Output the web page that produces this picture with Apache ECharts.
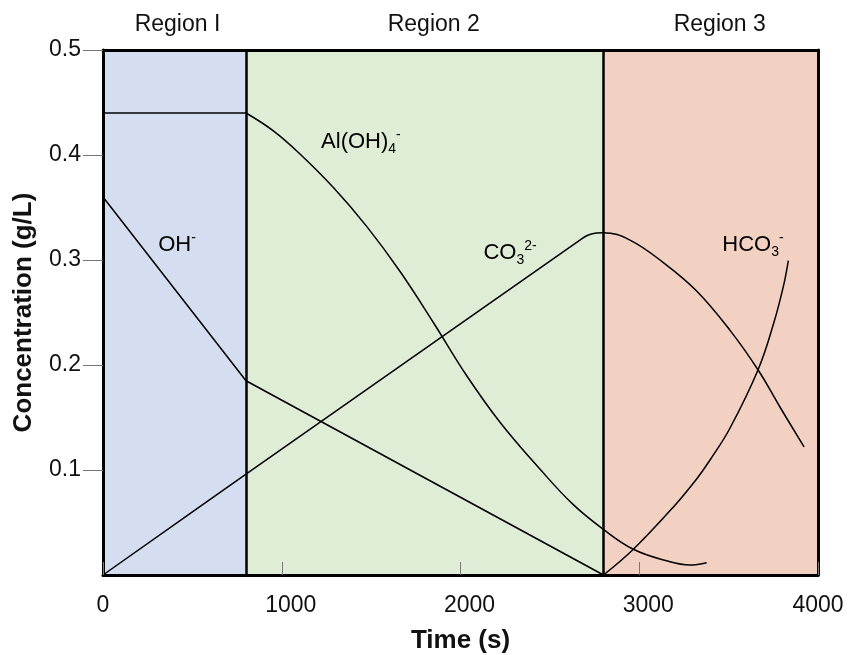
<!DOCTYPE html>
<html>
<head>
<meta charset="utf-8">
<script src="https://cdn.jsdelivr.net/npm/echarts@6/dist/echarts.min.js"></script>
<style>
html,body{margin:0;padding:0;background:#ffffff;}
#chart{width:851px;height:655px;}
</style>
</head>
<body>
<div id="chart"></div>
<script>
// ---- data ----
const regionNames = ['Region I', 'Region 2', 'Region 3'];
const regionBounds = [0, 800, 2800, 4000];
const regionColors = ['#D5DEF0', '#E0EDD6', '#F2D0C2'];
const xTickValues = [0, 1000, 2000, 3000, 4000];
const yTickValues = [0.1, 0.2, 0.3, 0.4, 0.5];

const ohData = [[0, 0.36], [800, 0.185], [2800, 0]];
const alData = [
  [0, 0.44], [800, 0.44], [953, 0.423], [1102, 0.401], [1289, 0.369],
  [1475, 0.332], [1662, 0.289], [1848, 0.2405], [2034, 0.190], [2221, 0.1455],
  [2454, 0.099], [2631, 0.067], [2799, 0.0435], [2967, 0.0245], [3153, 0.0135],
  [3284, 0.0095], [3377, 0.0117]
];
const co3Data = [
  [0, 0], [800, 0.096], [1219, 0.146], [2668, 0.319], [2715, 0.3238],
  [2760, 0.3258], [2800, 0.326], [2948, 0.319], [3135, 0.2975], [3321, 0.2705],
  [3508, 0.233], [3666, 0.195], [3787, 0.160], [3922, 0.122]
];
const hco3Data = [
  [2800, 0], [2967, 0.0245], [3190, 0.0646], [3321, 0.0915], [3396, 0.1095],
  [3508, 0.140], [3666, 0.196], [3750, 0.2385], [3806, 0.2746], [3834, 0.2994]
];

const speciesTexts = ['OH{sup|-}', 'Al(OH){sub|4}{sup|-}', 'CO{sub|3}{sup|2-}', 'HCO{sub|3}{sup|-}'];
const speciesAt = [[414, 0.314], [1443, 0.412], [2277, 0.307], [3636, 0.314]];

// ---- chart ----
const FONT = '"Liberation Sans", Arial, Helvetica, sans-serif';
const chart = echarts.init(document.getElementById('chart'), null, {renderer: 'canvas'});

const regionLabelOffsets = [[3, 0], [9, 0], [9, 0]];
const markAreaData = regionNames.map((name, i) => [
  {name: name, xAxis: regionBounds[i], itemStyle: {color: regionColors[i]},
   label: {offset: regionLabelOffsets[i]}},
  {xAxis: regionBounds[i + 1]}
]);
const dividerData = regionBounds.slice(1, -1).map(v => ({xAxis: v}));

// Al(OH)4- : flat part drawn straight, decay part drawn smooth (split at the region boundary)
const alSplit = alData.findIndex(p => p[0] === regionBounds[1]);
const alFlat = alData.slice(0, alSplit + 1);
const alDecay = alData.slice(alSplit);

const curveStyle = {color: '#000', width: 1.5};
function curve(name, data, smooth) {
  return {name: name, type: 'line', data: data, showSymbol: false, z: 3,
    smooth: smooth, lineStyle: curveStyle, itemStyle: {color: '#000'}};
}

const xMin = xTickValues[0], xMax = xTickValues[xTickValues.length - 1];

const option = {
  animation: false,
  backgroundColor: '#ffffff',
  grid: {left: 103, right: 33, top: 50, bottom: 80, show: false, outerBoundsMode: 'none', containLabel: false},
  xAxis: [{
    type: 'value', min: xMin, max: xMax, interval: 1000,
    position: 'bottom', z: 10,
    axisLine: {show: true, onZero: false, lineStyle: {color: '#000', width: 3}},
    axisTick: {show: true, inside: true, length: 13, lineStyle: {color: '#777', width: 1}},
    axisLabel: {show: true, margin: 19, fontSize: 23, color: '#111', fontFamily: FONT,
      customValues: xTickValues,
      formatter: v => (v > xMin && v < xMax) ? '{s|' + v + '}' : String(v),
      rich: {s: {fontSize: 23, color: '#111', fontFamily: FONT, padding: [0, 0, 0, 18]}}},
    splitLine: {show: false},
    name: 'Time (s)', nameLocation: 'middle', nameGap: 53,
    nameTextStyle: {fontSize: 26, fontWeight: 'bold', color: '#111', fontFamily: FONT}
  }, {
    type: 'value', min: xMin, max: xMax, position: 'top', z: 10,
    axisLine: {show: true, onZero: false, lineStyle: {color: '#000', width: 3}},
    axisTick: {show: false}, axisLabel: {show: false}, splitLine: {show: false}
  }],
  yAxis: [{
    type: 'value', min: 0, max: 0.5, interval: 0.1,
    position: 'left', z: 10,
    axisLine: {show: true, onZero: false, lineStyle: {color: '#000', width: 3}},
    axisTick: {show: true, inside: false, length: 20, lineStyle: {color: '#777', width: 1},
      customValues: yTickValues},
    axisLabel: {show: true, margin: 22, fontSize: 23, color: '#111', fontFamily: FONT,
      customValues: yTickValues, formatter: v => v.toFixed(1)},
    splitLine: {show: false},
    name: 'Concentration (g/L)', nameLocation: 'middle', nameGap: 66,
    nameTextStyle: {fontSize: 26, fontWeight: 'bold', color: '#111', fontFamily: FONT}
  }, {
    type: 'value', min: 0, max: 0.5, position: 'right', z: 10,
    axisLine: {show: true, onZero: false, lineStyle: {color: '#000', width: 3}},
    axisTick: {show: false}, axisLabel: {show: false}, splitLine: {show: false}
  }],
  series: [
    {
      name: 'regions', type: 'line', data: [], z: 1, silent: true,
      markArea: {
        silent: true,
        label: {show: true, position: 'top', distance: 14, fontSize: 23, color: '#111', fontFamily: FONT},
        data: markAreaData
      },
      markLine: {
        silent: true, symbol: ['none', 'none'],
        label: {show: false},
        lineStyle: {color: '#000', width: 2.5, type: 'solid'},
        data: dividerData
      }
    },
    curve('OH-', ohData, false),
    curve('Al(OH)4- flat', alFlat, false),
    curve('Al(OH)4-', alDecay, 0.4),
    curve('CO3 2-', co3Data, 0.4),
    curve('HCO3-', hco3Data, 0.4),
    {
      name: 'labels', type: 'scatter', z: 4, silent: true,
      symbolSize: 0, itemStyle: {color: '#000', opacity: 1},
      data: speciesAt.map((p, i) => ({value: p, label: {formatter: speciesTexts[i]}})),
      label: {
        show: true, position: 'inside', fontSize: 22, lineHeight: 28, color: '#000', fontFamily: FONT,
        rich: {
          sub: {fontSize: 14, lineHeight: 14, verticalAlign: 'bottom', color: '#000', fontFamily: FONT},
          sup: {fontSize: 14, lineHeight: 14, verticalAlign: 'top', color: '#000', fontFamily: FONT}
        }
      }
    }
  ]
};
chart.setOption(option);
</script>
</body>
</html>
